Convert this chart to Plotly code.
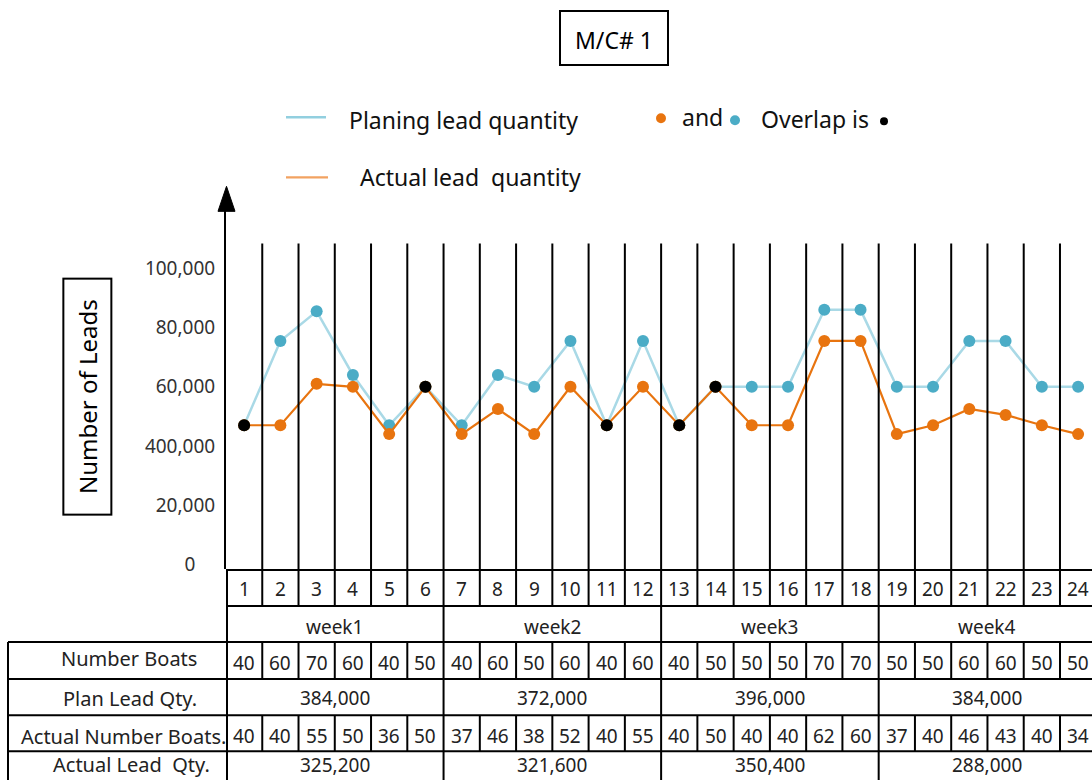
import plotly.graph_objects as go

W, H = 1092, 780

# ---- data -------------------------------------------------------------
days = list(range(1, 25))
weeks = ["week1", "week2", "week3", "week4"]

plan_leads = [47000, 75500, 85500, 64000, 47000, 60000,
              47000, 64000, 60000, 75500, 47000, 75500,
              47000, 60000, 60000, 60000, 86000, 86000,
              60000, 60000, 75500, 75500, 60000, 60000]
actual_leads = [47000, 47000, 61000, 60000, 44000, 60000,
                44000, 52500, 44000, 60000, 47000, 60000,
                47000, 60000, 47000, 47000, 75500, 75500,
                44000, 47000, 52500, 50500, 47000, 44000]

plan_boats = [40, 60, 70, 60, 40, 50, 40, 60, 50, 60, 40, 60,
              40, 50, 50, 50, 70, 70, 50, 50, 60, 60, 50, 50]
actual_boats = [40, 40, 55, 50, 36, 50, 37, 46, 38, 52, 40, 55,
                40, 50, 40, 40, 62, 60, 37, 40, 46, 43, 40, 34]
plan_lead_qty = [384000, 372000, 396000, 384000]
actual_lead_qty = [325200, 321600, 350400, 288000]

y_tick_vals = [0, 20000, 40000, 60000, 80000, 100000]
y_tick_text = ["0\u00a0\u00a0\u00a0\u00a0", "20,000", "400,000", "60,000", "80,000", "100,000"]

row_headers = ["Number Boats", "Plan Lead Qty.", "Actual Number Boats.", "Actual Lead\u00a0 Qty."]

# ---- styling ----------------------------------------------------------
PLAN_LINE = "#a9d9e6"
PLAN_DOT = "#4bacc6"
ACT_COLOR = "#e8740f"
FONT = "Noto Sans"
TXT = "#222222"

KY = 1.012  # vertical layout scale


def px(x):
    return x / W


def py(y):
    return 1 - (y * KY) / H


DAY_W = 36.26
X0 = 226.0  # left edge of the day columns
x_range = [0.5, 0.5 + (W - X0) / DAY_W]

fig = go.Figure()

fig.add_trace(go.Scatter(
    x=days, y=plan_leads, mode="lines+markers", name="Planing lead quantity",
    line=dict(color=PLAN_LINE, width=2.5),
    marker=dict(color=PLAN_DOT, size=12),
))
fig.add_trace(go.Scatter(
    x=days, y=actual_leads, mode="lines+markers", name="Actual lead quantity",
    line=dict(color=ACT_COLOR, width=2.2),
    marker=dict(color=ACT_COLOR, size=12),
))
overlap = [(d, p) for d, p, a in zip(days, plan_leads, actual_leads) if p == a]
fig.add_trace(go.Scatter(
    x=[d for d, _ in overlap], y=[v for _, v in overlap], mode="markers",
    name="Overlap", marker=dict(color="black", size=12),
))

shapes = []
annotations = []


def hline(y, x0, x1, w=2):
    shapes.append(dict(type="line", xref="paper", yref="paper",
                       x0=px(x0), x1=px(x1), y0=py(y), y1=py(y),
                       line=dict(color="black", width=w)))


def vline_day(xv, y0, y1, w=2):
    shapes.append(dict(type="line", xref="x", yref="paper",
                       x0=xv, x1=xv, y0=py(y0), y1=py(y1),
                       line=dict(color="black", width=w)))


def text(t, x, y, size=19, xref="paper", xanchor="center", color=TXT, family=FONT):
    annotations.append(dict(text=t, x=x if xref != "paper" else px(x), y=py(y),
                            xref=xref, yref="paper", showarrow=False,
                            xanchor=xanchor, yanchor="middle",
                            font=dict(family=family, size=size, color=color)))


# day column separators (plot area + table)
rows = [569, 605, 641, 678, 714, 750, 790]
for k in range(1, 24):
    xv = k + 0.5
    if k % 6 == 0:
        vline_day(xv, 243, 800)
    else:
        vline_day(xv, 243, rows[1])
        vline_day(xv, rows[2], rows[3])
        vline_day(xv, rows[4], rows[5])

# table horizontal rules
hline(rows[0], X0, W)
hline(rows[1], X0, W)
for r in rows[2:6]:
    hline(r, 8, W)
# table left edges
shapes.append(dict(type="line", xref="paper", yref="paper", x0=px(227), x1=px(227),
                   y0=py(568), y1=py(800), line=dict(color="black", width=2)))
shapes.append(dict(type="line", xref="paper", yref="paper", x0=px(8), x1=px(8),
                   y0=py(rows[2]), y1=py(800), line=dict(color="black", width=2)))

# y axis arrow head
shapes.append(dict(type="path", xref="paper", yref="paper",
                   path=f"M {px(218)},{py(211)} L {px(235)},{py(211)} L {px(226.5)},{py(186)} Z",
                   fillcolor="black", line=dict(color="black", width=1)))

# table text
for d, b, a in zip(days, plan_boats, actual_boats):
    text(str(d), d, 588, xref="x")
    text(str(b), d, 662, xref="x")
    text(str(a), d, 735, xref="x")
for i, wk in enumerate(weeks):
    xc = 6 * i + 3.5
    text(wk, xc, 626, xref="x")
    text(f"{plan_lead_qty[i]:,}", xc, 697, xref="x")
    text(f"{actual_lead_qty[i]:,}", xc, 764, xref="x")

for hdr, xc, yc in zip(row_headers, [129, 130, 123, 131], [657, 697, 735, 763]):
    text(hdr, xc, yc, size=20)

# title box
shapes.append(dict(type="rect", xref="paper", yref="paper",
                   x0=px(560), x1=px(668), y0=py(65), y1=py(11),
                   line=dict(color="black", width=2), fillcolor="white"))
text("M/C# 1", 613.5, 40, size=23, color="black")

# y axis title box
annotations.append(dict(text="Number of Leads", x=px(87), y=py(396), xref="paper", yref="paper",
                        showarrow=False, textangle=-90, xanchor="center", yanchor="middle",
                        font=dict(family=FONT, size=24, color="black"),
                        bordercolor="black", borderwidth=2, borderpad=6,
                        width=222, height=34))

# legend
shapes.append(dict(type="line", xref="paper", yref="paper", x0=px(286), x1=px(326),
                   y0=py(117), y1=py(117), line=dict(color="#92cfdf", width=2.5)))
shapes.append(dict(type="line", xref="paper", yref="paper", x0=px(286), x1=px(328),
                   y0=py(177), y1=py(177), line=dict(color="#f2a261", width=2.2)))
text("Planing lead quantity", 347, 120, size=23, xanchor="left", color="#111")
text("Actual lead\u00a0 quantity", 358, 177, size=23, xanchor="left", color="#111")
text("and", 680, 117, size=23, xanchor="left", color="#111")
text("Overlap is", 759, 119, size=23, xanchor="left", color="#111")


def dot(cx, cy, d, color):
    shapes.append(dict(type="circle", xref="paper", yref="paper",
                       x0=px(cx - d / 2), x1=px(cx + d / 2),
                       y0=py(cy + d / 2), y1=py(cy - d / 2),
                       fillcolor=color, line=dict(width=0)))


dot(661, 118, 10, ACT_COLOR)
dot(735, 120, 10, PLAN_DOT)
dot(884, 121, 8, "black")

fig.update_layout(
    width=W, height=H,
    margin=dict(l=0, r=0, t=0, b=0),
    paper_bgcolor="white", plot_bgcolor="white",
    showlegend=False,
    shapes=shapes, annotations=annotations,
    xaxis=dict(domain=[px(X0), 1], range=x_range, showgrid=False, zeroline=False,
               showline=False, showticklabels=False, ticks=""),
    yaxis=dict(domain=[py(568), py(200)], range=[-1557, 123020],
               tickvals=y_tick_vals, ticktext=y_tick_text,
               tickfont=dict(family=FONT, size=19, color="#333"),
               ticks="", ticklabelstandoff=5,
               showgrid=False, zeroline=False,
               showline=True, linecolor="black", linewidth=2),
)

fig.write_html("out.html")
